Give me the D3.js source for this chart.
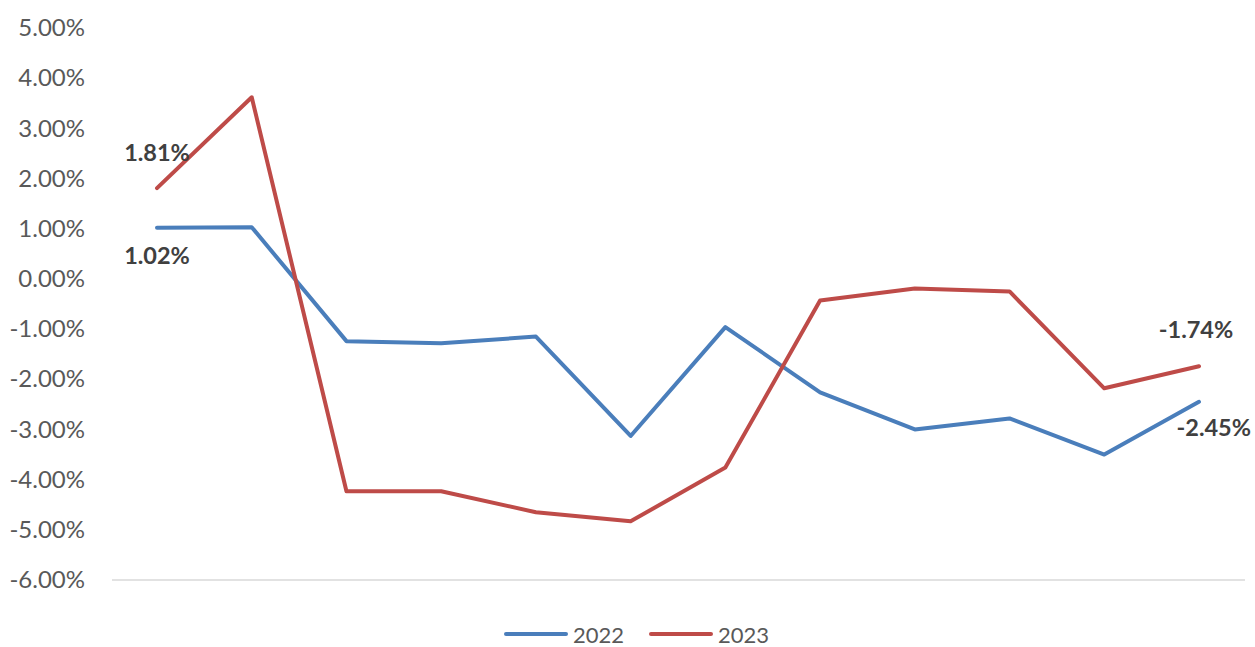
<!DOCTYPE html>
<html><head><meta charset="utf-8">
<script src="https://cdn.jsdelivr.net/npm/d3@7"></script>
<style>body{margin:0;background:#fff}svg{display:block}</style>
</head><body><svg id="c" width="1255" height="647"></svg>
<script>
const categories = ["1","2","3","4","5","6","7","8","9","10","11","12"];
const series2022 = [1.02, 1.03, -1.24, -1.28, -1.15, -3.13, -0.96, -2.26, -3.00, -2.78, -3.50, -2.45];
const series2023 = [1.81, 3.62, -4.23, -4.23, -4.65, -4.83, -3.76, -0.43, -0.19, -0.25, -2.18, -1.74];
const yTicks = [5, 4, 3, 2, 1, 0, -1, -2, -3, -4, -5, -6];
const seriesNames = ["2022", "2023"];
const colors = ["#4A7EBB", "#BE4B48"];

const svg = d3.select("#c");
const font = "Lato, 'Open Sans', sans-serif";
const x = d3.scalePoint().domain(categories).range([157, 1199]);
const y = d3.scaleLinear().domain([-6, 5]).range([580, 28]);
const fmt = d => d.toFixed(2) + "%";

// y axis labels
const yAxis = d3.axisLeft(y).tickValues(yTicks).tickSize(0).tickPadding(0).tickFormat(fmt);
const gy = svg.append("g").attr("transform", "translate(85,0)").call(yAxis);
gy.select(".domain").remove();
gy.selectAll("text").attr("font-family", font).attr("font-size", 24).attr("fill", "#595959");

// bottom axis line
svg.append("line").attr("x1", 112).attr("x2", 1245).attr("y1", y(-6)).attr("y2", y(-6))
  .attr("stroke", "#D9D9D9").attr("stroke-width", 1.5);

const line = d3.line().x((d, i) => x(categories[i])).y(d => y(d));
[series2022, series2023].forEach((s, k) => {
  svg.append("path").datum(s).attr("d", line).attr("fill", "none")
    .attr("stroke", colors[k]).attr("stroke-width", 4).attr("stroke-linejoin", "round").attr("stroke-linecap", "round");
});

// data labels
const labels = [
  {v: series2023[0], i: 0, dx: 0, dy: -36, a: "middle"},
  {v: series2022[0], i: 0, dx: 0, dy: 27, a: "middle"},
  {v: series2023[11], i: 11, dx: -3, dy: -37, a: "middle"},
  {v: series2022[11], i: 11, dx: 52, dy: 25, a: "end"}
];
svg.selectAll("text.lab").data(labels).enter().append("text").attr("class", "lab")
  .attr("x", d => x(categories[d.i]) + d.dx).attr("y", d => y(d.v) + d.dy)
  .attr("text-anchor", d => d.a).attr("dominant-baseline", "central")
  .attr("font-family", font).attr("font-weight", "bold").attr("font-size", 23.5).attr("fill", "#404040")
  .text(d => fmt(d.v));

// legend
const lg = svg.append("g");
const lx = [506, 651];
seriesNames.forEach((n, k) => {
  lg.append("line").attr("x1", lx[k]).attr("x2", lx[k] + 60).attr("y1", 634).attr("y2", 634)
    .attr("stroke", colors[k]).attr("stroke-width", 4).attr("stroke-linecap", "round");
  lg.append("text").attr("x", lx[k] + 67).attr("y", 634).attr("dominant-baseline", "central")
    .attr("font-family", font).attr("font-size", 22).attr("fill", "#595959").text(n);
});
</script></body></html>
